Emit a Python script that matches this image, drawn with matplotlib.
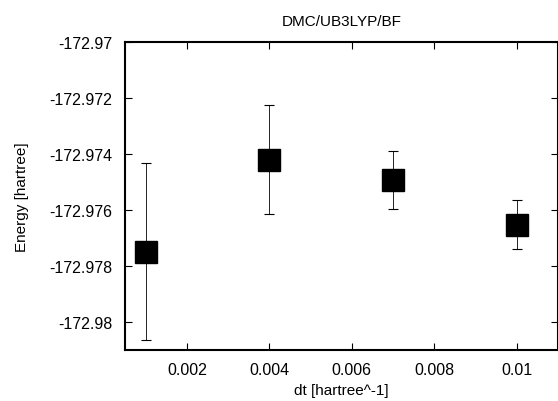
import matplotlib
matplotlib.use("Agg")
import matplotlib.pyplot as plt

plt.rcParams['font.family'] = ['Liberation Sans', 'DejaVu Sans']

# time step vs DMC energy
dt = [0.001, 0.004, 0.007, 0.010]
energy = [-172.97749, -172.97421, -172.97493, -172.97652]
err = [0.00316, 0.00195, 0.00105, 0.00087]

xticks = [0.002, 0.004, 0.006, 0.008, 0.01]
xticklabels = ['0.002', '0.004', '0.006', '0.008', '0.01']
yticks = [-172.97, -172.972, -172.974, -172.976, -172.978, -172.98]
yticklabels = ['-172.97', '-172.972', '-172.974', '-172.976', '-172.978', '-172.98']

fig = plt.figure(figsize=(5.58, 4.02), dpi=100)
ax = fig.add_axes([125/558, 1 - 351/402, 433/558, 308/402])

ax.errorbar(dt, energy, yerr=err, fmt='none', ecolor='black', elinewidth=0.6,
            capsize=3.5, capthick=0.8)
ax.plot(dt, energy, 's', color='black', markersize=16, linestyle='none')

ax.set_xlim(0.0005, 0.011)
ax.set_ylim(-172.981, -172.97)
ax.set_xticks(xticks)
ax.set_xticklabels(xticklabels)
ax.set_yticks(yticks)
ax.set_yticklabels(yticklabels)
ax.tick_params(direction='in', length=5, width=0.8, top=True, right=True,
               labelsize=11.5, pad=9)
for s in ax.spines.values():
    s.set_linewidth(1.5)

ax.set_title('DMC/UB3LYP/BF', fontsize=11, pad=12)
ax.set_xlabel('dt [hartree^-1]', fontsize=11, labelpad=4)
ax.set_ylabel('Energy [hartree]', fontsize=11, labelpad=15)

fig.savefig('out.png', dpi=100)
